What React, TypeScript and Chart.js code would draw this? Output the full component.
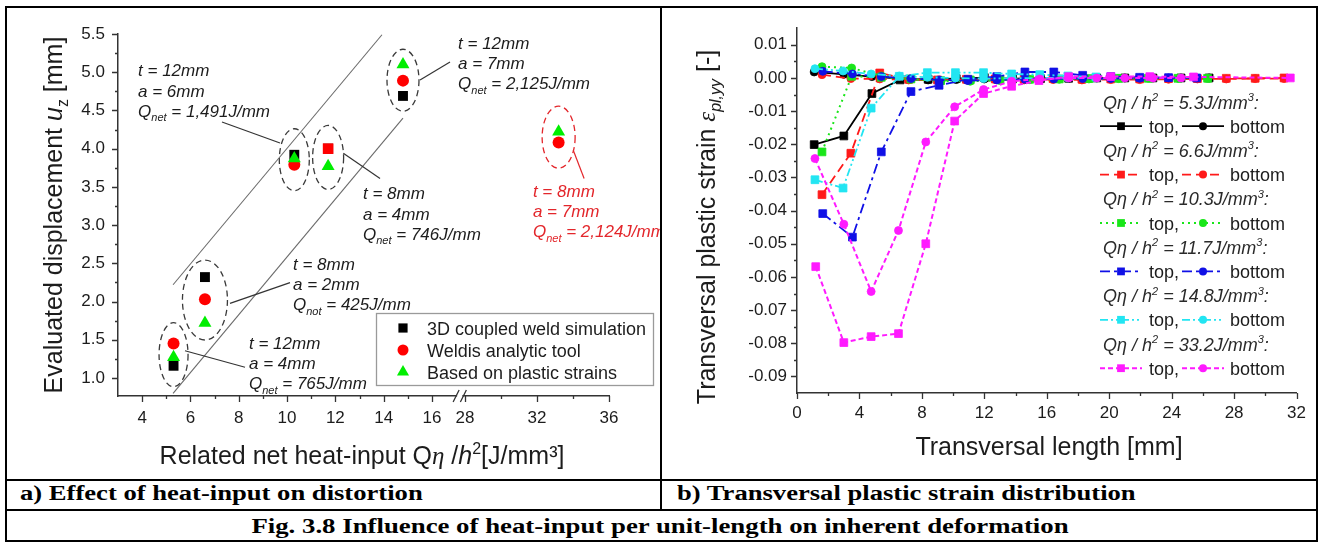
import React, { useEffect, useRef } from 'react';
import { Chart, registerables } from 'chart.js';

Chart.register(...registerables);

const SANS = '"Liberation Sans", Arial, Helvetica, sans-serif';
const SERIF = '"Liberation Serif", "Times New Roman", serif';
const INK = '#1c1c1c';

/* ---------- a) distortion versus related net heat input ---------- */
const heatInput = [5.3, 6.6, 10.3, 11.7, 14.8, 33.2];
const uzSimulation: (number | null)[] = [1.16, 2.32, 3.92, 4.0, 4.69, null];
const uzWeldis = [1.45, 2.03, 3.79, 4.0, 4.89, 4.08];
const uzPlastic = [1.27, 1.72, 3.87, 3.77, 5.1, 4.22];

const heatTicks = [4, 6, 8, 10, 12, 14, 16, 28, 32, 36];
const heatMinorTicks = [5, 7, 9, 11, 13, 15, 30, 34];
const uzTicks = [1.0, 1.5, 2.0, 2.5, 3.0, 3.5, 4.0, 4.5, 5.0, 5.5];

// two guide lines bounding the trend
const bandUpperX = [5.28, 13.93];
const bandUpperY = [2.22, 5.49];
const bandLowerX = [5.28, 14.8];
const bandLowerY = [0.8, 4.4];

/* ---------- b) transversal plastic strain ---------- */
const heatLabels = ['5.3', '6.6', '10.3', '11.7', '14.8', '33.2'];

const x53 = [1.1, 3.0, 4.8, 6.6, 8.4, 10.2, 12.0, 13.8, 15.6, 17.4, 19.2, 21.0, 22.8, 24.6, 26.4];
const top53 = [-0.0201, -0.0175, -0.0047, -0.0006, -0.0004, -0.0002, 0.0001, -0.0003, -0.0002, -0.0001, 0, 0, 0, 0, 0];
const bot53 = [0.0018, 0.0011, 0.0004, -0.0002, -0.0006, -0.0005, -0.0003, -0.0002, -0.0001, -0.0001, 0, 0, 0, 0, 0];

const x66 = [1.6, 3.45, 5.3, 7.15, 9.0, 10.85, 12.7, 14.55, 16.4, 18.25, 20.1, 21.95, 23.8, 25.65, 27.5, 29.35, 31.2];
const top66 = [-0.0352, -0.0227, 0.0015, -0.0004, -0.0006, -0.0004, -0.0003, -0.0004, -0.0002, -0.0004, -0.0003, -0.0003, -0.0002, -0.0002, -0.0001, -0.0001, 0];
const bot66 = [0.001, -0.0002, -0.0003, -0.0006, -0.0007, -0.0006, -0.0005, -0.0006, -0.0005, -0.0006, -0.0005, -0.0005, -0.0004, -0.0003, -0.0003, -0.0002, -0.0002];

const x103 = [1.6, 3.5, 5.4, 7.3, 9.2, 11.1, 13.0, 14.9, 16.8, 18.7, 20.6, 22.5, 24.4, 26.3];
const top103 = [-0.0223, 0.0005, 0.0002, -0.0003, -0.0008, -0.0006, -0.0005, -0.0004, -0.0003, -0.0002, -0.0001, -0.0001, -0.0001, -0.0001];
const bot103 = [0.0034, 0.003, 0.0006, -0.0004, -0.0009, -0.001, -0.0008, -0.0005, -0.0004, -0.0003, -0.0002, -0.0001, -0.0001, -0.0001];

const x117 = [1.65, 3.55, 5.4, 7.3, 9.1, 10.95, 12.8, 14.6, 16.45, 18.3, 20.1, 21.95, 23.8, 25.6];
const top117 = [-0.0409, -0.048, -0.0223, -0.0041, -0.0022, -0.0004, 0.0004, 0.0018, 0.0018, 0.0008, 0.0004, 0.0002, 0.0001, 0];
const bot117 = [0.002, 0.0012, 0.0004, -0.0002, -0.0006, -0.0008, -0.0006, -0.0004, -0.0003, -0.0002, -0.0002, -0.0001, 0, 0];

const x148 = [1.15, 2.95, 4.75, 6.55, 8.35, 10.15, 11.95, 13.75, 15.55, 17.35, 19.15];
const top148 = [-0.0307, -0.0332, -0.0091, 0.0005, 0.0016, 0.0016, 0.0016, 0.0012, 0.001, 0.0006, 0.0003];
const bot148 = [0.0028, 0.0021, 0.0012, 0.0006, 0.0002, 0, -0.0002, -0.0001, 0, 0, 0];

const x332Top = [1.2, 3.0, 4.75, 6.5, 8.25, 10.1, 11.95, 13.75, 15.5, 17.4, 20.1, 22.6, 25.4, 31.6];
const top332 = [-0.0569, -0.0798, -0.078, -0.0771, -0.05, -0.013, -0.0047, -0.0025, -0.0008, 0.0004, 0.0004, 0.0004, 0.0003, 0];
const x332Bot = [1.15, 3.0, 4.75, 6.5, 8.25, 10.1, 11.95, 13.75, 15.55, 17.4, 19.2, 21.0, 22.8, 24.6];
const bot332 = [-0.0243, -0.0441, -0.0644, -0.046, -0.0193, -0.0087, -0.0035, -0.001, -0.0003, 0, 0, 0, 0, 0];

const strainTicks = [0.01, 0, -0.01, -0.02, -0.03, -0.04, -0.05, -0.06, -0.07, -0.08, -0.09];
const lengthTicks = [0, 4, 8, 12, 16, 20, 24, 28, 32];

const captionA = 'a) Effect of heat-input on distortion';
const captionB = 'b) Transversal plastic strain distribution';
const figureCaption = 'Fig. 3.8 Influence of heat-input per unit-length on inherent deformation';

/* ---------- broken x axis of chart a) ---------- */
const BREAK_AT = 17.37; // axis position where the 28..36 part starts
const BREAK_SCALE = 0.745; // compression of the upper part
const axisPos = (x: number) => (x < 20 ? x : BREAK_AT + (x - 28) * BREAK_SCALE);

/* ---------- rich text helpers ---------- */
type Run = { t: string; i?: boolean; s?: 'sub' | 'sup'; f?: string };

function runFont(r: Run, size: number) {
  const sz = r.s ? Math.round(size * 0.62) : size;
  return `${r.i ? 'italic ' : ''}${sz}px ${r.f || SANS}`;
}
function runsWidth(ctx: CanvasRenderingContext2D, runs: Run[], size: number) {
  let w = 0;
  for (const r of runs) {
    ctx.font = runFont(r, size);
    w += ctx.measureText(r.t).width;
  }
  return w;
}
function drawRuns(
  ctx: CanvasRenderingContext2D,
  runs: Run[],
  x: number,
  y: number,
  size: number,
  color: string,
  align: 'left' | 'center' = 'left'
) {
  let cx = align === 'center' ? x - runsWidth(ctx, runs, size) / 2 : x;
  ctx.fillStyle = color;
  ctx.textBaseline = 'alphabetic';
  ctx.textAlign = 'left';
  for (const r of runs) {
    ctx.font = runFont(r, size);
    const dy = r.s === 'sub' ? size * 0.25 : r.s === 'sup' ? -size * 0.42 : 0;
    ctx.fillText(r.t, cx, y + dy);
    cx += ctx.measureText(r.t).width;
  }
}

function drawTickMarks(ctx: CanvasRenderingContext2D, scale: any, values: number[], len: number) {
  ctx.beginPath();
  for (const v of values) {
    const p = Math.round(scale.getPixelForValue(v)) + 0.5;
    if (scale.isHorizontal()) {
      ctx.moveTo(p, scale.top);
      ctx.lineTo(p, scale.top + len);
    } else {
      ctx.moveTo(scale.right, p);
      ctx.lineTo(scale.right - len, p);
    }
  }
  ctx.stroke();
}

function drawMarker(ctx: CanvasRenderingContext2D, style: string, x: number, y: number, r: number, color: string) {
  ctx.save();
  ctx.setLineDash([]);
  ctx.fillStyle = color;
  ctx.beginPath();
  if (style === 'rect') {
    const h = r * Math.SQRT1_2;
    ctx.rect(x - h, y - h, 2 * h, 2 * h);
  } else if (style === 'triangle') {
    ctx.moveTo(x, y - r);
    ctx.lineTo(x + r * 0.866, y + r * 0.5);
    ctx.lineTo(x - r * 0.866, y + r * 0.5);
    ctx.closePath();
  } else {
    ctx.arc(x, y, r, 0, Math.PI * 2);
  }
  ctx.fill();
  ctx.restore();
}

/* ---------- chart a) decorations ---------- */
type NoteLine = string | [string, string, string];
const caseNotes: { at: [number, number]; lines: NoteLine[]; leader: [number, number][]; red?: boolean }[] = [
  { at: [3.83, 5.023], lines: ['t = 12mm', 'a = 6mm', ['Q', 'net', ' = 1,491J/mm']], leader: [[7.306, 4.349], [9.708, 4.074]] },
  { at: [17.08, 5.383], lines: ['t = 12mm', 'a = 7mm', ['Q', 'net', ' = 2,125J/mm']], leader: [[15.505, 4.898], [16.747, 5.134]] },
  { at: [13.145, 3.414], lines: ['t = 8mm', 'a = 4mm', ['Q', 'net', ' = 746J/mm']], leader: [[12.33, 3.94], [13.85, 3.61]] },
  { at: [20.18, 3.446], lines: ['t = 8mm', 'a = 7mm', ['Q', 'net', ' = 2,124J/mm']], leader: [[21.85, 3.98], [22.3, 3.61]], red: true },
  { at: [10.246, 2.491], lines: ['t = 8mm', 'a = 2mm', ['Q', 'not', ' = 425J/mm']], leader: [[7.638, 1.977], [10.122, 2.247]] },
  { at: [8.424, 1.458], lines: ['t = 12mm', 'a = 4mm', ['Q', 'net', ' = 765J/mm']], leader: [[5.774, 1.357], [8.259, 1.14]] },
];
const caseRings = [
  { x: 5.3, rx: 14.5, ry: 32 },
  { x: 6.6, rx: 22.5, ry: 40 },
  { x: 10.3, rx: 15, ry: 31 },
  { x: 11.7, rx: 15.5, ry: 32 },
  { x: 14.8, rx: 16, ry: 31 },
  { x: 33.2, rx: 16.5, ry: 31, red: true },
];
const RED_NOTE = '#e3262b';

const distortionDecor = {
  id: 'distortionDecor',
  beforeDatasetsDraw(chart: any) {
    const { ctx } = chart;
    const xs = chart.scales.x;
    const ys = chart.scales.y;
    ctx.save();
    ctx.lineWidth = 1.3;
    ctx.setLineDash([6, 4]);
    for (const ring of caseRings) {
      const i = heatInput.indexOf(ring.x);
      const vals = [uzSimulation[i], uzWeldis[i], uzPlastic[i]].filter((v) => v !== null) as number[];
      const mid = (Math.max(...vals) + Math.min(...vals)) / 2;
      ctx.strokeStyle = ring.red ? RED_NOTE : '#3a3a3a';
      ctx.beginPath();
      ctx.ellipse(xs.getPixelForValue(axisPos(ring.x)), ys.getPixelForValue(mid), ring.rx, ring.ry, 0, 0, Math.PI * 2);
      ctx.stroke();
    }
    ctx.restore();
  },
  afterDraw(chart: any) {
    const { ctx, chartArea } = chart;
    const xs = chart.scales.x;
    const ys = chart.scales.y;
    ctx.save();
    // tick marks
    ctx.strokeStyle = '#333';
    ctx.lineWidth = 1.3;
    drawTickMarks(ctx, xs, heatTicks.map(axisPos), 6);
    drawTickMarks(ctx, xs, heatMinorTicks.map(axisPos), 3);
    drawTickMarks(ctx, ys, uzTicks, 6);
    drawTickMarks(ctx, ys, uzTicks.slice(0, -1).map((v) => v + 0.25), 3);

    // axis break
    const b0 = xs.getPixelForValue(17.0);
    const b1 = xs.getPixelForValue(17.3);
    const yb = chartArea.bottom;
    ctx.fillStyle = '#fff';
    ctx.fillRect(b0 + 1, yb - 2, b1 - b0 - 2, 4);
    ctx.beginPath();
    for (const bx of [b0, b1]) {
      ctx.moveTo(bx - 3, yb + 6);
      ctx.lineTo(bx + 3, yb - 6);
    }
    ctx.stroke();

    // case annotations
    for (const n of caseNotes) {
      const color = n.red ? RED_NOTE : INK;
      ctx.strokeStyle = n.red ? RED_NOTE : '#333';
      ctx.lineWidth = 1.2;
      ctx.beginPath();
      ctx.moveTo(xs.getPixelForValue(n.leader[0][0]), ys.getPixelForValue(n.leader[0][1]));
      ctx.lineTo(xs.getPixelForValue(n.leader[1][0]), ys.getPixelForValue(n.leader[1][1]));
      ctx.stroke();
      const x0 = xs.getPixelForValue(n.at[0]);
      const y0 = ys.getPixelForValue(n.at[1]) + 6;
      n.lines.forEach((ln, k) => {
        const runs: Run[] = typeof ln === 'string'
          ? [{ t: ln, i: true }]
          : [{ t: ln[0], i: true }, { t: ln[1], i: true, s: 'sub' }, { t: ln[2], i: true }];
        drawRuns(ctx, runs, x0, y0 + k * 20.2, 17, color);
      });
    }

    // legend box
    const lx = 369.5;
    const ly = 305.5;
    ctx.fillStyle = '#fff';
    ctx.fillRect(lx, ly, 277, 72);
    ctx.strokeStyle = '#9a9a9a';
    ctx.lineWidth = 1.3;
    ctx.strokeRect(lx, ly, 277, 72);
    const legendRows = [
      { label: '3D coupled weld simulation', style: 'rect', r: 6.5, color: '#000' },
      { label: 'Weldis analytic tool', style: 'circle', r: 5.5, color: '#ff0000' },
      { label: 'Based on plastic strains', style: 'triangle', r: 7, color: '#00ee00' },
    ];
    legendRows.forEach((row, k) => {
      const cy = 320 + k * 22;
      drawMarker(ctx, row.style, 396, cy, row.r, row.color);
      drawRuns(ctx, [{ t: row.label }], 420, cy + 6.5, 18, INK);
    });

    // axis titles
    ctx.save();
    ctx.translate(55, 207);
    ctx.rotate(-Math.PI / 2);
    drawRuns(ctx, [{ t: 'Evaluated displacement ' }, { t: 'u', i: true }, { t: 'z', s: 'sub' }, { t: ' [mm]' }], 0, 0, 25, INK, 'center');
    ctx.restore();
    drawRuns(
      ctx,
      [{ t: 'Related net heat-input Q' }, { t: 'η', i: true, f: SERIF }, { t: ' /' }, { t: 'h', i: true }, { t: '2', s: 'sup' }, { t: '[J/mm³]' }],
      355,
      456,
      25,
      INK,
      'center'
    );
    ctx.restore();
  },
};

function DistortionChart() {
  const ref = useRef<HTMLCanvasElement>(null);
  useEffect(() => {
    const canvas = ref.current!;
    const pts = (ys: (number | null)[]) =>
      heatInput
        .map((x, i) => ({ x: axisPos(x), y: ys[i] }))
        .filter((p) => p.y !== null);
    const chart = new Chart(canvas, {
      type: 'scatter',
      data: {
        datasets: [
          {
            label: 'band upper',
            data: bandUpperX.map((x, i) => ({ x, y: bandUpperY[i] })),
            showLine: true,
            pointRadius: 0,
            borderColor: '#6a6a6a',
            borderWidth: 1.1,
            order: 10,
          },
          {
            label: 'band lower',
            data: bandLowerX.map((x, i) => ({ x, y: bandLowerY[i] })),
            showLine: true,
            pointRadius: 0,
            borderColor: '#6a6a6a',
            borderWidth: 1.1,
            order: 10,
          },
          {
            label: '3D coupled weld simulation',
            data: pts(uzSimulation),
            pointStyle: 'rect',
            pointRadius: 7,
            backgroundColor: '#000',
            borderColor: '#000',
            pointBorderWidth: 0,
            order: 3,
          },
          {
            label: 'Weldis analytic tool',
            data: pts(uzWeldis),
            pointStyle: heatInput.map((x) => (x === 11.7 ? 'rect' : 'circle')) as any,
            pointRadius: heatInput.map((x) => (x === 11.7 ? 7.5 : 6)) as any,
            backgroundColor: '#ff0000',
            borderColor: '#ff0000',
            pointBorderWidth: 0,
            order: 2,
          },
          {
            label: 'Based on plastic strains',
            data: pts(uzPlastic),
            pointStyle: 'triangle',
            pointRadius: 7.5,
            backgroundColor: '#00ee00',
            borderColor: '#00ee00',
            pointBorderWidth: 0,
            order: 1,
          },
        ] as any,
      },
      options: {
        responsive: false,
        animation: false,
        devicePixelRatio: 1,
        layout: { padding: { top: 26, right: 51, left: 0, bottom: 0 } },
        plugins: { legend: { display: false }, tooltip: { enabled: false } },
        scales: {
          x: {
            type: 'linear',
            min: 3,
            max: axisPos(36),
            afterBuildTicks: (s: any) => {
              s.ticks = heatTicks.map((v) => ({ value: axisPos(v) }));
            },
            afterFit: (s: any) => {
              s.height = 83;
            },
            grid: { display: false, drawTicks: false },
            border: { display: true, color: '#333', width: 1.5 },
            ticks: {
              autoSkip: false,
              maxRotation: 0,
              padding: 12,
              color: INK,
              font: { size: 17, family: SANS },
              callback: (_v: any, i: number) => String(heatTicks[i]),
            },
          },
          y: {
            type: 'linear',
            min: 0.7645,
            max: 5.5,
            afterBuildTicks: (s: any) => {
              s.ticks = uzTicks.map((v) => ({ value: v }));
            },
            afterFit: (s: any) => {
              s.width = 111;
            },
            grid: { display: false, drawTicks: false },
            border: { display: true, color: '#333', width: 1.5 },
            ticks: {
              autoSkip: false,
              padding: 13,
              color: INK,
              font: { size: 17, family: SANS },
              callback: (v: any) => Number(v).toFixed(1),
            },
          },
        },
      } as any,
      plugins: [distortionDecor],
    });
    return () => chart.destroy();
  }, []);
  return (
    <canvas
      ref={ref}
      width={653}
      height={471}
      style={{ position: 'absolute', left: 7, top: 8, width: 653, height: 471 }}
    />
  );
}

/* ---------- chart b) ---------- */
const strainGroups = [
  { xTop: x53, top: top53, xBot: x53, bot: bot53 },
  { xTop: x66, top: top66, xBot: x66, bot: bot66 },
  { xTop: x103, top: top103, xBot: x103, bot: bot103 },
  { xTop: x117, top: top117, xBot: x117, bot: bot117 },
  { xTop: x148, top: top148, xBot: x148, bot: bot148 },
  { xTop: x332Top, top: top332, xBot: x332Bot, bot: bot332 },
];
const groupStyles = [
  { color: '#000000', dash: [] as number[], width: 1.8 },
  { color: '#ff1a1a', dash: [9, 5], width: 1.8 },
  { color: '#19e619', dash: [2, 4], width: 2 },
  { color: '#1010e6', dash: [10, 4, 3, 4], width: 1.8 },
  { color: '#22e5f2', dash: [8, 3, 2, 3, 2, 3], width: 1.8 },
  { color: '#ff1aff', dash: [5, 3], width: 2 },
];

const strainDecor = {
  id: 'strainDecor',
  afterDraw(chart: any) {
    const { ctx } = chart;
    const xs = chart.scales.x;
    const ys = chart.scales.y;
    ctx.save();
    ctx.strokeStyle = '#333';
    ctx.lineWidth = 1.3;
    drawTickMarks(ctx, xs, lengthTicks, 6);
    drawTickMarks(ctx, xs, lengthTicks.slice(0, -1).map((v) => v + 2), 3);
    drawTickMarks(ctx, ys, strainTicks, 6);
    drawTickMarks(ctx, ys, strainTicks.slice(1).map((v) => v + 0.005), 3);

    // legend
    const tx = 441;
    heatLabels.forEach((q, k) => {
      const yHead = 94 + k * 48.4;
      drawRuns(
        ctx,
        [
          { t: 'Qη / h', i: true },
          { t: '2', i: true, s: 'sup' },
          { t: ` = ${q}J/mm`, i: true },
          { t: '3', i: true, s: 'sup' },
          { t: ':', i: true },
        ],
        tx,
        yHead + 6.5,
        18,
        '#2a2a2a'
      );
      const yRow = yHead + 24.2;
      const st = groupStyles[k];
      const sample = (x0: number, style: string, r: number) => {
        ctx.save();
        ctx.strokeStyle = st.color;
        ctx.lineWidth = st.width;
        ctx.setLineDash(st.dash);
        ctx.beginPath();
        ctx.moveTo(x0, yRow);
        ctx.lineTo(x0 + 42, yRow);
        ctx.stroke();
        ctx.restore();
        drawMarker(ctx, style, x0 + 21, yRow, r, st.color);
      };
      sample(438, 'rect', 5.5);
      drawRuns(ctx, [{ t: 'top,' }], 487, yRow + 6.5, 18, INK);
      sample(520, 'circle', 4);
      drawRuns(ctx, [{ t: 'bottom' }], 568, yRow + 6.5, 18, INK);
    });

    // axis titles
    ctx.save();
    ctx.translate(53, 219);
    ctx.rotate(-Math.PI / 2);
    drawRuns(
      ctx,
      [{ t: 'Transversal plastic strain ' }, { t: 'ε', i: true, f: SERIF }, { t: 'pl,yy', i: true, s: 'sub' }, { t: ' [-]' }],
      0,
      0,
      25,
      INK,
      'center'
    );
    ctx.restore();
    drawRuns(ctx, [{ t: 'Transversal length [mm]' }], 387, 447, 25, INK, 'center');
    ctx.restore();
  },
};

function StrainChart() {
  const ref = useRef<HTMLCanvasElement>(null);
  useEffect(() => {
    const canvas = ref.current!;
    const datasets: any[] = [];
    strainGroups.forEach((g, k) => {
      const st = groupStyles[k];
      const common = {
        showLine: true,
        borderColor: st.color,
        backgroundColor: st.color,
        borderWidth: st.width,
        borderDash: st.dash,
        pointBorderWidth: 0.8,
      };
      datasets.push({
        ...common,
        label: `${heatLabels[k]} top`,
        data: g.xTop.map((x, i) => ({ x, y: g.top[i] })),
        pointStyle: 'rect',
        pointRadius: 5.5,
        order: 20 - 2 * k,
      });
      datasets.push({
        ...common,
        label: `${heatLabels[k]} bottom`,
        data: g.xBot.map((x, i) => ({ x, y: g.bot[i] })),
        pointStyle: 'circle',
        pointRadius: 4,
        order: 19 - 2 * k,
      });
    });
    const chart = new Chart(canvas, {
      type: 'scatter',
      data: { datasets },
      options: {
        responsive: false,
        animation: false,
        devicePixelRatio: 1,
        layout: { padding: { top: 15, right: 16, left: 0, bottom: 0 } },
        plugins: { legend: { display: false }, tooltip: { enabled: false } },
        scales: {
          x: {
            type: 'linear',
            min: 0,
            max: 32,
            afterBuildTicks: (s: any) => {
              s.ticks = lengthTicks.map((v) => ({ value: v }));
            },
            afterFit: (s: any) => {
              s.height = 86;
            },
            grid: { display: false, drawTicks: false },
            border: { display: true, color: '#333', width: 1.5 },
            ticks: {
              autoSkip: false,
              maxRotation: 0,
              padding: 10,
              color: INK,
              font: { size: 17, family: SANS },
              callback: (v: any) => String(v),
            },
          },
          y: {
            type: 'linear',
            min: -0.095,
            max: 0.015,
            afterBuildTicks: (s: any) => {
              s.ticks = strainTicks.map((v) => ({ value: v }));
            },
            afterFit: (s: any) => {
              s.width = 135;
            },
            grid: { display: false, drawTicks: false },
            border: { display: true, color: '#333', width: 1.5 },
            ticks: {
              autoSkip: false,
              padding: 10,
              color: INK,
              font: { size: 17, family: SANS },
              callback: (v: any) => Number(v).toFixed(2),
            },
          },
        },
      } as any,
      plugins: [strainDecor],
    });
    return () => chart.destroy();
  }, []);
  return (
    <canvas
      ref={ref}
      width={654}
      height={471}
      style={{ position: 'absolute', left: 662, top: 8, width: 654, height: 471 }}
    />
  );
}

/* ---------- table frame and captions ---------- */
const rule = (left: number, top: number, width: number, height: number) => (
  <div style={{ position: 'absolute', left, top, width, height, background: '#000' }} />
);

const captionStyle: React.CSSProperties = {
  position: 'absolute',
  font: `bold 20px ${SERIF}`,
  lineHeight: '20px',
  whiteSpace: 'nowrap',
  color: '#000',
};

export default function App() {
  return (
    <div
      style={{
        position: 'absolute',
        left: 0,
        top: 0,
        width: 1320,
        height: 543,
        background: '#fff',
        overflow: 'hidden',
      }}
    >
      <DistortionChart />
      <StrainChart />
      {rule(5, 6, 1313, 2)}
      {rule(5, 540, 1313, 2)}
      {rule(5, 6, 2, 536)}
      {rule(1316, 6, 2, 536)}
      {rule(660, 6, 2, 505)}
      {rule(5, 479, 1313, 2)}
      {rule(5, 509, 1313, 2)}
      <div style={{ ...captionStyle, left: 20, top: 483, transform: 'scaleX(1.33)', transformOrigin: 'left top' }}>
        {captionA}
      </div>
      <div style={{ ...captionStyle, left: 677, top: 483, transform: 'scaleX(1.33)', transformOrigin: 'left top' }}>
        {captionB}
      </div>
      <div
        style={{
          ...captionStyle,
          left: 0,
          width: 1320,
          top: 516,
          textAlign: 'center',
          transform: 'scaleX(1.34)',
          transformOrigin: '660px top',
        }}
      >
        {figureCaption}
      </div>
    </div>
  );
}
